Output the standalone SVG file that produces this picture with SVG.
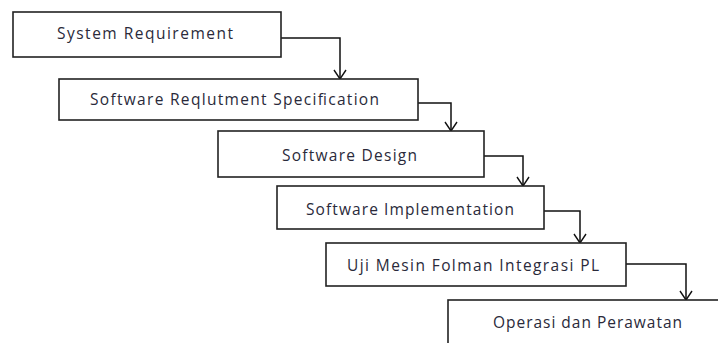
<svg xmlns="http://www.w3.org/2000/svg" width="718" height="343" viewBox="0 0 718 343">
  <style>
    .box { fill: #ffffff; stroke: #222; stroke-width: 1.6; }
    .lbl { font-family: "Open Sans", "Noto Sans", "DejaVu Sans", sans-serif; font-size: 15.5px; fill: #2a2a3a; text-anchor: middle; }
    .con { fill: none; stroke: #111; stroke-width: 1.5; }
    .head { fill: none; stroke: #111; stroke-width: 1.4; }
  </style>
  <rect width="718" height="343" fill="#ffffff"/>
  <g id="connectors">
    <path class="con" d="M281,38 H340 V79"/>
    <path class="head" d="M334,70 L340,79 L346,70"/>
    <path class="con" d="M418,103 H451 V131"/>
    <path class="head" d="M445,122 L451,131 L457,122"/>
    <path class="con" d="M484,156 H523 V186"/>
    <path class="head" d="M517,177 L523,186 L529,177"/>
    <path class="con" d="M544,211 H580 V243"/>
    <path class="head" d="M574,234 L580,243 L586,234"/>
    <path class="con" d="M626,264 H686 V300"/>
    <path class="head" d="M680,291 L686,300 L692,291"/>
  </g>
  <g id="node1">
    <rect class="box" x="13" y="12" width="268" height="45"/>
    <text class="lbl" x="145" y="39" textLength="176" lengthAdjust="spacing">System Requirement</text>
  </g>
  <g id="node2">
    <rect class="box" x="59" y="79" width="359" height="41"/>
    <text class="lbl" x="234.5" y="105" textLength="289" lengthAdjust="spacing">Software Reqlutment Specification</text>
  </g>
  <g id="node3">
    <rect class="box" x="218" y="131" width="266" height="46"/>
    <text class="lbl" x="349.5" y="161" textLength="135" lengthAdjust="spacing">Software Design</text>
  </g>
  <g id="node4">
    <rect class="box" x="277" y="186" width="267" height="43"/>
    <text class="lbl" x="410" y="215" textLength="208" lengthAdjust="spacing">Software Implementation</text>
  </g>
  <g id="node5">
    <rect class="box" x="326" y="243" width="300" height="43"/>
    <text class="lbl" x="473" y="271" textLength="252" lengthAdjust="spacing">Uji Mesin Folman Integrasi PL</text>
  </g>
  <g id="node6">
    <rect class="box" x="448" y="300" width="290" height="60"/>
    <text class="lbl" x="587.5" y="328" textLength="189" lengthAdjust="spacing">Operasi dan Perawatan</text>
  </g>
</svg>
